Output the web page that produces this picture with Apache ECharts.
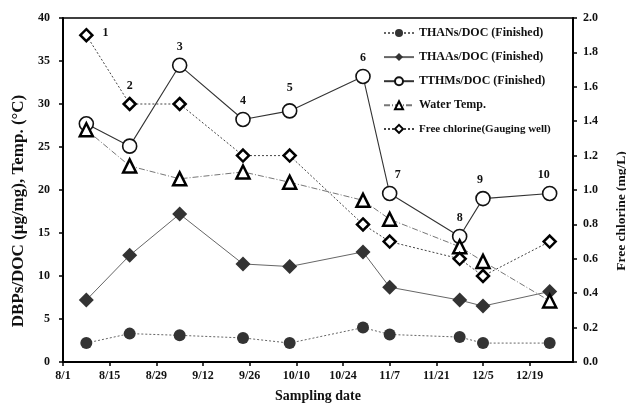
<!DOCTYPE html>
<html>
<head>
<meta charset="utf-8">
<script src="https://cdn.jsdelivr.net/npm/echarts@6/dist/echarts.min.js"></script>
<style>
  html, body { margin: 0; padding: 0; background: #fff; }
  #chart { width: 626px; height: 404px; }
</style>
</head>
<body>
<div id="chart"></div>
<script>
// ---- Data ----
const samplingDates = ['8/8', '8/21', '9/5', '9/24', '10/8', '10/30', '11/7', '11/28', '12/5', '12/25'];
const pointNumbers = ['1', '2', '3', '4', '5', '6', '7', '8', '9', '10'];
const thans = [2.2, 3.3, 3.1, 2.8, 2.2, 4.0, 3.2, 2.9, 2.2, 2.2];
const thaas = [7.2, 12.4, 17.2, 11.4, 11.1, 12.8, 8.7, 7.2, 6.5, 8.2];
const tthms = [27.7, 25.1, 34.5, 28.2, 29.2, 33.2, 19.6, 14.6, 19.0, 19.6];
const waterTemp = [27.0, 22.8, 21.3, 22.1, 20.9, 18.8, 16.6, 13.4, 11.7, 7.1];
const freeChlorine = [1.9, 1.5, 1.5, 1.2, 1.2, 0.8, 0.7, 0.6, 0.5, 0.7];
const xTickLabels = ['8/1', '8/15', '8/29', '9/12', '9/26', '10/10', '10/24', '11/7', '11/21', '12/5', '12/19'];
// which series carries each sample number label
const numberHost = ['cl', 'cl', 'tthm', 'tthm', 'tthm', 'tthm', 'tthm', 'tthm', 'tthm', 'tthm'];

// ---- helpers ----
const monthStartDay = { 8: 0, 9: 31, 10: 61, 11: 92, 12: 122, 1: 153 };
function dayOffset(md) {
  const [m, d] = md.split('/').map(Number);
  return monthStartDay[m] + d - 1;
}
const days = samplingDates.map(dayOffset);

const numberLabelStyle = {
  show: true, fontFamily: 'Liberation Serif', fontWeight: 'bold', fontSize: 12,
  color: '#111', position: 'top', distance: 5
};
const labelTweaks = {
  0: { position: 'right', distance: 9, offset: [0, -2] },
  4: { offset: [0, -4] },
  6: { offset: [8, 0] },
  8: { offset: [-3, 0] },
  9: { offset: [-6, 0] }
};
function buildData(values, host) {
  return values.map((v, i) => {
    const item = { value: [days[i], v] };
    if (host && numberHost[i] === host) {
      item.label = Object.assign({}, numberLabelStyle, labelTweaks[i] || {}, {
        formatter: pointNumbers[i]
      });
    }
    return item;
  });
}

const serif = 'Liberation Serif';
const chart = echarts.init(document.getElementById('chart'), null, { renderer: 'canvas' });

const option = {
  animation: false,
  backgroundColor: '#fff',
  grid: {
    left: 63, right: 53, top: 18, bottom: 42,
    outerBoundsMode: 'none', containLabel: false,
    show: true, borderColor: '#000', borderWidth: 1.5, backgroundColor: 'transparent'
  },
  legend: {
    orient: 'vertical', left: 383, top: 27, padding: 0,
    itemWidth: 30, itemHeight: 10, itemGap: 12.1,
    textStyle: { fontFamily: serif, fontWeight: 'bold', fontSize: 12, color: '#111' },
    data: [
      'THANs/DOC (Finished)', 'THAAs/DOC (Finished)', 'TTHMs/DOC (Finished)', 'Water Temp.',
      { name: 'Free chlorine(Gauging well)', textStyle: { fontSize: 11 } }
    ]
  },
  xAxis: {
    type: 'value', min: 0, max: 153, interval: 14,
    name: 'Sampling date', nameLocation: 'middle', nameGap: 27,
    nameTextStyle: { fontFamily: serif, fontWeight: 'bold', fontSize: 14, color: '#111' },
    axisLine: { show: true, lineStyle: { color: '#000', width: 2 } },
    axisTick: { show: true, inside: false, length: 4, lineStyle: { color: '#000', width: 1.5 } },
    axisLabel: {
      margin: 8, fontFamily: serif, fontWeight: 'bold', fontSize: 12, color: '#111',
      showMaxLabel: false,
      formatter: v => (v % 14 === 0 && xTickLabels[v / 14]) ? xTickLabels[v / 14] : ''
    },
    splitLine: { show: false }
  },
  yAxis: [
    {
      type: 'value', min: 0, max: 40, interval: 5, position: 'left',
      name: 'DBPs/DOC (μg/mg), Temp. (°C)', nameLocation: 'middle', nameGap: 36,
      nameTextStyle: { fontFamily: serif, fontWeight: 'bold', fontSize: 17, color: '#111', padding: [0, 42, 0, 0] },
      axisLine: { show: true, lineStyle: { color: '#000', width: 2 } },
      axisTick: { show: true, inside: false, length: 4, lineStyle: { color: '#000', width: 1.5 } },
      axisLabel: { margin: 13, fontFamily: serif, fontWeight: 'bold', fontSize: 12, color: '#111' },
      splitLine: { show: false }
    },
    {
      type: 'value', min: 0, max: 2, interval: 0.2, position: 'right',
      name: 'Free chlorine (mg/L)', nameLocation: 'middle', nameGap: 42, nameRotate: 90,
      nameTextStyle: { fontFamily: serif, fontWeight: 'bold', fontSize: 13.5, color: '#111', padding: [0, 42, 0, 0] },
      axisLine: { show: true, lineStyle: { color: '#000', width: 2 } },
      axisTick: { show: true, inside: false, length: 4, lineStyle: { color: '#000', width: 1.5 } },
      axisLabel: { margin: 10, fontFamily: serif, fontWeight: 'bold', fontSize: 12, color: '#111',
        formatter: v => v.toFixed(1) },
      splitLine: { show: false }
    }
  ],
  series: [
    {
      name: 'THANs/DOC (Finished)', type: 'line', yAxisIndex: 0,
      data: buildData(thans),
      symbol: 'circle', symbolSize: 12,
      itemStyle: { color: '#333', borderColor: '#333', borderWidth: 0 },
      lineStyle: { color: '#666', width: 1, type: [2, 2] },
      z: 3
    },
    {
      name: 'THAAs/DOC (Finished)', type: 'line', yAxisIndex: 0,
      data: buildData(thaas),
      symbol: 'diamond', symbolSize: 15,
      itemStyle: { color: '#333', borderColor: '#333', borderWidth: 0 },
      lineStyle: { color: '#666', width: 1, type: 'solid' },
      z: 3
    },
    {
      name: 'TTHMs/DOC (Finished)', type: 'line', yAxisIndex: 0,
      data: buildData(tthms, 'tthm'),
      symbol: 'circle', symbolSize: 14,
      itemStyle: { color: '#fff', borderColor: '#111', borderWidth: 1.6 },
      lineStyle: { color: '#333', width: 1.1, type: 'solid' },
      z: 4
    },
    {
      name: 'Water Temp.', type: 'line', yAxisIndex: 0,
      data: buildData(waterTemp),
      symbol: 'triangle', symbolSize: 13,
      itemStyle: { color: '#fff', borderColor: '#000', borderWidth: 2.5 },
      lineStyle: { color: '#777', width: 1, type: [6, 2, 1, 2] },
      z: 4
    },
    {
      name: 'Free chlorine(Gauging well)', type: 'line', yAxisIndex: 1,
      data: buildData(freeChlorine, 'cl'),
      symbol: 'diamond', symbolSize: 12,
      itemStyle: { color: '#fff', borderColor: '#000', borderWidth: 2.5 },
      lineStyle: { color: '#444', width: 1, type: [2, 2] },
      z: 5
    }
  ]
};
chart.setOption(option);
</script>
</body>
</html>
